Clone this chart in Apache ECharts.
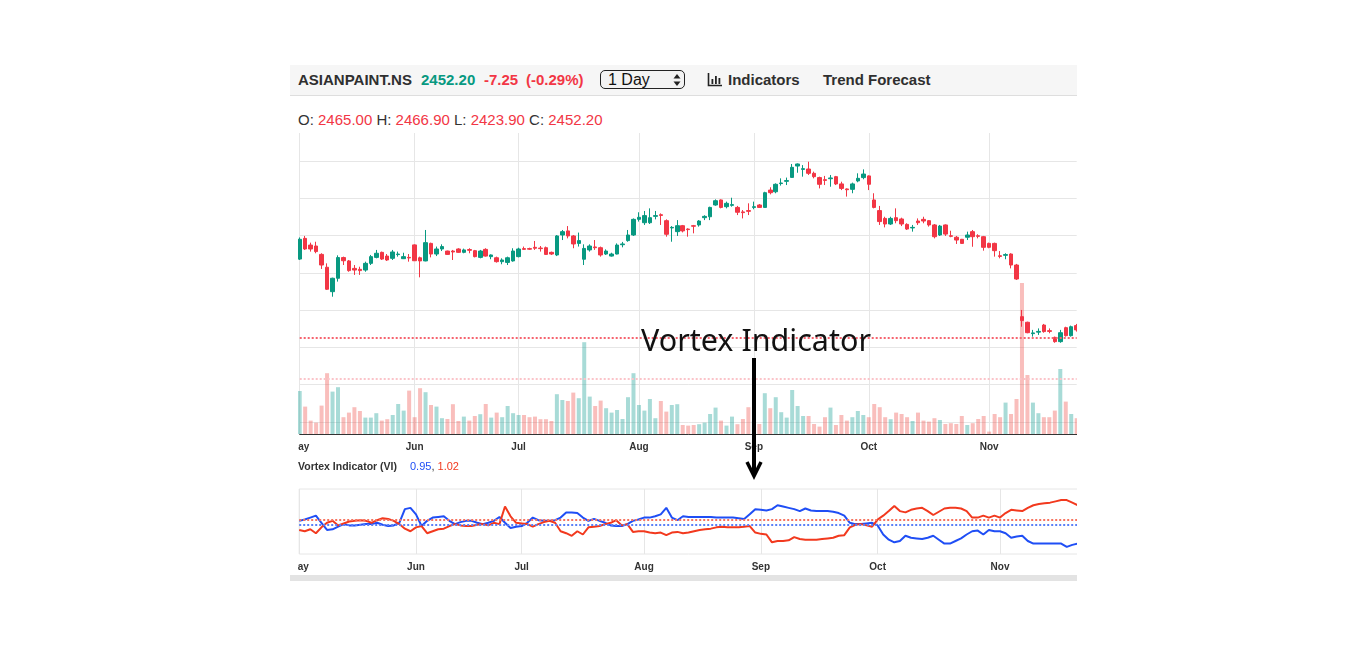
<!DOCTYPE html>
<html>
<head>
<meta charset="utf-8">
<script src="https://cdn.jsdelivr.net/npm/echarts@6/dist/echarts.min.js"></script>
<style>
  body { margin: 0; width: 1366px; height: 646px; background: #fff; position: relative; overflow: hidden;
         font-family: "Liberation Sans", Arial, Helvetica, sans-serif; }
  .abs { position: absolute; white-space: nowrap; }
  #toolbar { left: 290px; top: 65px; width: 787px; height: 30px; background: #f6f6f6; border-bottom: 1px solid #dedede; }
  .tb { top: 65px; height: 30px; line-height: 30px; font-size: 15px; font-weight: bold; }
  #chart { left: 298px; top: 100px; width: 779px; height: 475px; }
  #strip { left: 290px; top: 575px; width: 787px; height: 6px; background: #e3e3e3; }
</style>
</head>
<body>
<div id="toolbar" class="abs"></div>
<div class="abs tb" style="left:298px;color:#2f2f2f">ASIANPAINT.NS</div>
<div class="abs tb" style="left:421px;color:#089981">2452.20</div>
<div class="abs tb" style="left:484px;color:#f23645">-7.25</div>
<div class="abs tb" style="left:526px;color:#f23645">(-0.29%)</div>
<div class="abs" style="left:600px;top:70px;width:83px;height:17px;border:1.5px solid #222;border-radius:5px;background:#f3f3f3"></div>
<div class="abs" style="left:608px;top:70px;line-height:20px;font-size:16px;color:#111">1 Day</div>
<svg class="abs" style="left:672px;top:72px" width="10" height="16">
  <polygon points="5,2 8.5,6.5 1.5,6.5" fill="#222"/>
  <polygon points="5,14 8.5,9.5 1.5,9.5" fill="#222"/>
</svg>
<svg class="abs" style="left:707px;top:72px" width="16" height="15">
  <path d="M1.5 1 V13.5 H15" stroke="#222" stroke-width="1.6" fill="none"/>
  <rect x="4.5" y="7" width="1.8" height="5" fill="#222"/>
  <rect x="8" y="4" width="1.8" height="8" fill="#222"/>
  <rect x="11.5" y="6" width="1.8" height="6" fill="#222"/>
</svg>
<div class="abs tb" style="left:728px;color:#2f2f2f">Indicators</div>
<div class="abs tb" style="left:823px;color:#2f2f2f">Trend Forecast</div>

<div class="abs" style="left:298px;top:111px;line-height:18px;font-size:15px;color:#333">O: <span style="color:#f23645">2465.00</span> H: <span style="color:#f23645">2466.90</span> L: <span style="color:#f23645">2423.90</span> C: <span style="color:#f23645">2452.20</span></div>

<div id="chart" class="abs"></div>

<div class="abs" style="left:298px;top:460px;line-height:12px;font-size:10.5px;font-weight:bold;color:#333">Vortex Indicator (VI)</div>
<div class="abs" style="left:410px;top:460px;line-height:12px;font-size:11px;color:#333"><span style="color:#1f4ef5">0.95</span>, <span style="color:#f2391e">1.02</span></div>
<div id="strip" class="abs"></div>

<div class="abs" style="left:641px;top:324px;line-height:31px;font-size:30.5px;font-family:'Noto Sans',sans-serif;color:#111">Vortex Indicator</div>
<svg class="abs" style="left:740px;top:350px" width="30" height="135">
  <line x1="14" y1="8" x2="14" y2="125" stroke="#000" stroke-width="4"/>
  <polyline points="7,112 14,126 21,112" stroke="#000" stroke-width="3.5" fill="none"/>
</svg>

<script>
// trading days, May - Nov
const dates = [
  '2024-05-02','2024-05-03','2024-05-06','2024-05-07','2024-05-08','2024-05-09','2024-05-10','2024-05-13','2024-05-14','2024-05-15',
  '2024-05-16','2024-05-17','2024-05-21','2024-05-22','2024-05-23','2024-05-24','2024-05-27','2024-05-28','2024-05-29','2024-05-30',
  '2024-05-31','2024-06-03','2024-06-04','2024-06-05','2024-06-06','2024-06-07','2024-06-10','2024-06-11','2024-06-12','2024-06-13',
  '2024-06-14','2024-06-18','2024-06-19','2024-06-20','2024-06-21','2024-06-24','2024-06-25','2024-06-26','2024-06-27','2024-06-28',
  '2024-07-01','2024-07-02','2024-07-03','2024-07-04','2024-07-05','2024-07-08','2024-07-09','2024-07-10','2024-07-11','2024-07-12',
  '2024-07-15','2024-07-16','2024-07-18','2024-07-19','2024-07-22','2024-07-23','2024-07-24','2024-07-25','2024-07-26','2024-07-29',
  '2024-07-30','2024-07-31','2024-08-01','2024-08-02','2024-08-05','2024-08-06','2024-08-07','2024-08-08','2024-08-09','2024-08-12',
  '2024-08-13','2024-08-14','2024-08-16','2024-08-19','2024-08-20','2024-08-21','2024-08-22','2024-08-23','2024-08-26','2024-08-27',
  '2024-08-28','2024-08-29','2024-08-30','2024-09-02','2024-09-03','2024-09-04','2024-09-05','2024-09-06','2024-09-09','2024-09-10',
  '2024-09-11','2024-09-12','2024-09-13','2024-09-16','2024-09-17','2024-09-18','2024-09-19','2024-09-20','2024-09-23','2024-09-24',
  '2024-09-25','2024-09-26','2024-09-27','2024-09-30','2024-10-01','2024-10-03','2024-10-04','2024-10-07','2024-10-08','2024-10-09',
  '2024-10-10','2024-10-11','2024-10-14','2024-10-15','2024-10-16','2024-10-17','2024-10-18','2024-10-21','2024-10-22','2024-10-23',
  '2024-10-24','2024-10-25','2024-10-28','2024-10-29','2024-10-30','2024-10-31','2024-11-01','2024-11-04','2024-11-05','2024-11-06',
  '2024-11-07','2024-11-08','2024-11-11','2024-11-12','2024-11-13','2024-11-14','2024-11-18','2024-11-19','2024-11-21','2024-11-22',
  '2024-11-25','2024-11-26','2024-11-27'
];
const opens = [
  2874,2985,2949,2944,2899,2830,2699,2771,2882,2864, 2824,2819,2815,2851,2883,2910,2890,2878,2898,2876,
  2883,2950,2881,2864,2958,2901,2928,2917,2917,2928, 2910,2925,2919,2883,2926,2887,2881,2860,2856,2864,
  2887,2930,2930,2937,2933,2935,2910,2896,3003,3025, 2998,2958,2873,2923,2939,2935,2901,2890,2901,2951,
  2973,3003,3087,3069,3069,3103,3112,3080,3041,3021, 3053,3035,3053,3057,3096,3101,3164,3191,3155,3162,
  3151,3127,3134,3151,3164,3151,3244,3235,3279,3291, 3312,3373,3355,3357,3334,3311,3300,3305,3316,3277,
  3250,3248,3293,3311,3320,3191,3134,3092,3062,3096, 3089,3060,3041,3078,3087,3080,3057,3003,3057,2999,
  2991,2980,2991,3021,2999,2994,2958,2958,2892,2894, 2901,2842,2565,2535,2474,2482,2520,2490,2454,2431,
  2506,2463,2517
];
const closes = [
  2980,2928,2928,2914,2842,2712,2771,2882,2865,2812, 2815,2812,2851,2887,2905,2874,2869,2912,2901,2887,
  2880,2865,2864,2962,2901,2928,2941,2899,2912,2910, 2923,2921,2887,2917,2890,2896,2860,2869,2881,2917,
  2928,2926,2927,2932,2930,2899,2901,2998,3021,2998, 2955,2973,2931,2944,2935,2896,2917,2901,2949,2955,
  3003,3087,3098,3107,3096,3107,3108,3007,3044,3053, 3025,3032,3050,3078,3103,3151,3187,3151,3173,3166,
  3125,3123,3130,3155,3151,3230,3230,3275,3282,3295, 3366,3384,3359,3334,3316,3275,3296,3309,3277,3253,
  3246,3277,3307,3330,3275,3151,3075,3062,3092,3080, 3062,3035,3044,3069,3078,3057,2994,3051,3008,2996,
  2976,2958,3003,2994,2996,2937,2937,2919,2888,2898, 2842,2767,2544,2479,2478,2486,2485,2486,2431,2479,
  2463,2511,2494
];
const lows = [
  2869,2923,2914,2905,2821,2708,2672,2753,2842,2806, 2789,2789,2806,2842,2878,2869,2864,2869,2887,2874,
  2860,2864,2776,2862,2883,2890,2917,2896,2869,2907, 2905,2905,2883,2878,2887,2873,2855,2846,2842,2860,
  2883,2923,2923,2923,2914,2896,2896,2890,2976,2985, 2932,2941,2842,2914,2923,2887,2896,2887,2899,2937,
  2967,2998,3075,3057,3062,3087,3057,2994,2967,2998, 3017,2994,3012,3048,3083,3083,3160,3146,3146,3155,
  3110,3092,3110,3141,3150,3150,3221,3227,3268,3271, 3311,3337,3316,3325,3307,3253,3271,3262,3271,3244,
  3209,3227,3286,3302,3244,3146,3057,3044,3057,3066, 3051,3030,3021,3057,3066,3048,2985,2998,2998,2991,
  2955,2955,2976,2940,2985,2919,2932,2887,2878,2873, 2824,2762,2511,2476,2458,2467,2479,2476,2425,2425,
  2458,2458,2485
];
const highs = [
  2990,2998,2962,2967,2905,2851,2774,2894,2887,2869, 2842,2833,2860,2896,2923,2914,2901,2923,2914,2908,
  2901,2953,2887,3030,2962,2941,2953,2919,2923,2932, 2930,2932,2923,2923,2932,2899,2887,2878,2887,2932,
  2935,2941,2935,2971,2944,2941,2914,3003,3030,3051, 3003,3016,2953,2953,2976,2941,2926,2908,2958,2966,
  3030,3092,3125,3132,3146,3132,3119,3087,3051,3083, 3057,3039,3057,3083,3109,3155,3194,3194,3182,3203,
  3159,3137,3173,3182,3169,3235,3259,3280,3307,3311, 3384,3387,3378,3396,3343,3316,3320,3325,3320,3289,
  3253,3284,3334,3355,3323,3227,3159,3101,3101,3146, 3096,3066,3057,3092,3101,3083,3062,3057,3060,3026,
  2998,2982,3021,3030,3007,2998,2962,2962,2917,2905, 2905,2848,2601,2538,2494,2502,2526,2502,2458,2494,
  2511,2517,2526
];
// volume, million shares
const volumes = [
  2.15,1.37,0.67,0.57,1.42,3.04,2.12,2.34,0.84,1.07, 1.34,1.15,0.82,0.82,1.04,0.67,0.74,0.95,1.50,1.17,
  2.17,0.84,2.29,2.09,1.45,1.37,0.79,0.75,1.49,0.65, 0.87,0.67,0.90,0.99,1.50,0.82,1.07,0.84,1.40,1.04,
  0.95,0.95,0.84,0.87,0.74,0.74,0.65,1.99,1.70,1.65, 2.07,1.79,4.59,1.87,1.40,1.67,1.29,1.07,1.20,0.75,
  1.84,3.04,1.45,1.17,1.75,0.79,1.65,1.12,1.45,1.49, 0.45,0.42,0.45,0.49,0.57,1.00,1.32,0.67,0.42,0.87,
  0.49,0.75,1.34,0.65,0.50,2.04,1.29,1.84,1.09,0.82, 2.20,1.40,0.90,0.90,0.50,0.37,0.84,1.32,0.45,0.95,
  0.67,0.84,1.15,0.95,0.84,1.50,1.34,0.84,0.74,1.07, 1.00,0.84,0.65,1.07,0.67,0.62,0.79,0.70,0.50,0.54,
  0.50,0.90,0.45,0.54,0.75,0.90,0.12,1.00,0.84,1.57, 1.00,1.75,7.55,2.95,1.57,1.04,0.84,0.84,1.17,3.25,
  1.62,1.00,0.79
];
const viPlus = [
  1.01,1.03,1.06,1.09,0.98,0.87,0.88,0.92,0.96,0.94, 0.94,0.95,0.96,0.96,0.98,0.95,0.93,0.94,0.98,1.19,
  1.21,1.11,0.93,1.01,1.06,1.07,1.08,1.01,0.96,0.99, 1.01,1.01,0.98,0.96,0.98,1.01,1.07,0.98,0.90,0.92,
  0.93,0.98,1.06,1.02,1.01,1.01,1.02,1.06,1.14,1.14, 1.13,1.06,1.01,1.04,1.01,0.98,0.94,0.93,0.93,0.96,
  1.01,1.03,1.06,1.06,1.08,1.11,1.21,1.06,1.02,1.08, 1.07,1.07,1.07,1.07,1.07,1.06,1.06,1.06,1.06,1.05,
  1.04,1.11,1.19,1.18,1.17,1.19,1.25,1.23,1.21,1.19, 1.16,1.20,1.17,1.16,1.16,1.16,1.15,1.13,1.09,0.98,
  0.96,0.96,0.97,0.98,0.94,0.80,0.72,0.68,0.70,0.78, 0.75,0.74,0.73,0.75,0.78,0.72,0.66,0.66,0.70,0.74,
  0.80,0.85,0.86,0.80,0.87,0.85,0.85,0.82,0.75,0.77, 0.78,0.70,0.66,0.66,0.66,0.66,0.66,0.66,0.61,0.64,
  0.66
];
const viMinus = [
  0.87,0.85,0.88,0.82,0.91,0.98,1.01,0.94,0.97,1.00, 1.01,1.02,1.01,0.98,1.02,1.05,1.04,1.01,0.96,0.89,
  0.85,0.91,0.93,0.82,0.85,0.88,0.89,0.93,0.96,0.94, 0.93,0.93,0.95,0.96,0.94,0.98,0.96,1.23,1.08,0.98,
  0.97,0.96,0.92,0.96,0.99,1.01,0.98,0.85,0.82,0.78, 0.85,0.80,0.91,0.92,0.93,0.96,0.98,1.02,0.94,0.96,
  0.84,0.85,0.85,0.83,0.82,0.83,0.79,0.83,0.84,0.82, 0.83,0.85,0.87,0.88,0.89,0.91,0.92,0.91,0.91,0.91,
  0.92,0.93,0.83,0.81,0.80,0.68,0.70,0.70,0.71,0.76, 0.73,0.72,0.72,0.72,0.73,0.74,0.75,0.78,0.79,0.91,
  0.95,0.96,0.94,0.92,1.03,1.09,1.16,1.24,1.16,1.14, 1.18,1.20,1.21,1.16,1.10,1.15,1.20,1.21,1.21,1.20,
  1.16,1.06,1.06,1.09,1.06,1.09,1.06,1.13,1.18,1.17, 1.16,1.21,1.25,1.27,1.28,1.29,1.31,1.33,1.33,1.29,
  1.25
];
const lastClose = 2452.2;
const volLine = 2.75;
const viLast = [0.95, 1.02];

const monthNames = ['Jan','Feb','Mar','Apr','May','Jun','Jul','Aug','Sep','Oct','Nov','Dec'];
const isMonthStart = (i) => i === 0 || dates[i].slice(5, 7) !== dates[i - 1].slice(5, 7);
const monthLabel = (v) => monthNames[Number(v.slice(5, 7)) - 1];

const upColor = '#089981';
const downColor = '#f23645';

let chartDom = document.getElementById('chart');
let myChart = echarts.init(chartDom);

const candles = dates.map((d, i) => [opens[i], closes[i], lows[i], highs[i]]);
const volData = volumes.map((v, i) => ({
  value: v,
  itemStyle: { color: closes[i] >= opens[i] ? 'rgba(38,166,154,0.4)' : 'rgba(239,83,80,0.38)' }
}));

const axisLabelStyle = {
  interval: isMonthStart,
  formatter: monthLabel,
  color: '#333',
  fontWeight: 'bold',
  fontSize: 10,
  fontFamily: 'Liberation Sans, Arial, sans-serif'
};

// dotted horizontal reference line
const hLine = (val, color) => ({
  silent: true, symbol: 'none', label: { show: false },
  lineStyle: { color: color, type: [2, 2], width: 2 },
  data: [{ yAxis: val }]
});

let option = {
  animation: false,
  backgroundColor: 'transparent',
  grid: [
    { left: 1.7, top: 33, width: 777, height: 301, containLabel: false, outerBoundsMode: 'none' },
    { left: 1.2, top: 389, width: 789.8, height: 65, containLabel: false, outerBoundsMode: 'none',
      show: true, borderColor: '#e6e6e6', borderWidth: 1 }
  ],
  xAxis: [
    {
      type: 'category', gridIndex: 0, data: dates, boundaryGap: false,
      axisLine: { lineStyle: { color: '#333', width: 1 } },
      axisTick: { show: false },
      axisLabel: Object.assign({ margin: 8 }, axisLabelStyle),
      splitLine: { show: true, interval: isMonthStart, lineStyle: { color: '#e6e6e6' } }
    },
    {
      type: 'category', gridIndex: 1, data: dates, boundaryGap: false,
      axisLine: { show: false },
      axisTick: { show: false },
      axisLabel: Object.assign({ margin: 8 }, axisLabelStyle),
      splitLine: { show: true, interval: isMonthStart, lineStyle: { color: '#e6e6e6' } }
    }
  ],
  yAxis: [
    {
      type: 'value', gridIndex: 0, min: 1935.6, max: 3550.2, splitNumber: 8, scale: true,
      axisLabel: { show: false }, axisLine: { show: false }, axisTick: { show: false },
      splitLine: { show: true, showMinLine: false, showMaxLine: false, lineStyle: { color: '#e6e6e6' } }
    },
    { type: 'value', gridIndex: 0, min: 0, max: 15.05, show: false, splitLine: { show: false } },
    { type: 'value', gridIndex: 1, min: 0.5, max: 1.5, show: false, splitLine: { show: false } }
  ],
  series: [
    {
      name: 'Volume', type: 'bar', xAxisIndex: 0, yAxisIndex: 1, barWidth: 4, data: volData, z: 1,
      markLine: hLine(volLine, '#fbc4c9')
    },
    {
      name: 'ASIANPAINT.NS', type: 'candlestick', xAxisIndex: 0, yAxisIndex: 0, barWidth: 4, z: 3,
      data: candles,
      itemStyle: { color: upColor, color0: downColor, borderColor: upColor, borderColor0: downColor, borderWidth: 1 },
      markLine: hLine(lastClose, '#f6646f')
    },
    {
      name: 'VI+', type: 'line', xAxisIndex: 1, yAxisIndex: 2, data: viPlus, showSymbol: false,
      lineStyle: { color: '#1f4ef5', width: 2 }, itemStyle: { color: '#1f4ef5' },
      markLine: hLine(viLast[0], '#5a7ff7')
    },
    {
      name: 'VI-', type: 'line', xAxisIndex: 1, yAxisIndex: 2, data: viMinus, showSymbol: false,
      lineStyle: { color: '#f2391e', width: 2 }, itemStyle: { color: '#f2391e' },
      markLine: hLine(viLast[1], '#f6735f')
    }
  ]
};
option && myChart.setOption(option);
</script>
</body>
</html>
